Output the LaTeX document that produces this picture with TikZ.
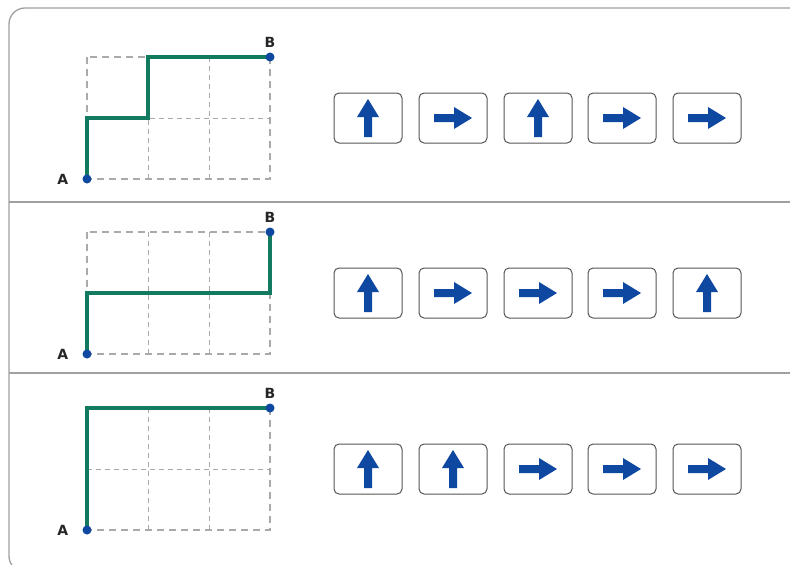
\documentclass[tikz,border=0pt]{standalone}
\usepackage{fontspec}
\setsansfont{DejaVu Sans}
\usetikzlibrary{positioning}
\definecolor{routegreen}{RGB}{18,122,94}
\definecolor{markblue}{RGB}{14,72,160}
\definecolor{framegray}{RGB}{160,160,160}
\definecolor{gridgray}{RGB}{170,170,170}
\definecolor{boxgray}{RGB}{85,85,85}

\begin{document}
\begin{tikzpicture}[x=1pt, y=-1pt,
    frame/.style={draw=framegray, line width=1.3pt},
    gridline/.style={draw=gridgray, dash pattern=on 5pt off 4pt, line width=0.7pt},
    gridedge/.style={draw=gridgray, dash pattern=on 7pt off 5pt, line width=1.3pt},
    route/.style={draw=routegreen, line width=4pt},
    dot/.style={circle, fill=markblue, inner sep=0pt, minimum size=9pt},
    lbl/.style={font=\sffamily\bfseries\fontsize{14}{14}\selectfont, text=black!85, inner sep=0pt},
    card/.style={draw=boxgray, rounded corners=5pt, line width=1pt, minimum width=68pt, minimum height=50pt, fill=white},
    uparrow/.pic={\fill[markblue] (-4,19) -- (-4,-1) -- (-11,-1) -- (0,-19) -- (11,-1) -- (4,-1) -- (4,19) -- cycle;},
    rightarrow/.pic={\fill[markblue] (-19,-4) -- (1,-4) -- (1,-11) -- (19,0) -- (1,11) -- (1,4) -- (-19,4) -- cycle;}
]
\useasboundingbox (0,0) rectangle (790,565);
\clip (0,0) rectangle (790,565);

% frame and row separators
\draw[frame, rounded corners=16pt] (800,8) -- (9,8) -- (9,572) -- (800,572);
\draw[frame] (9,202) -- (790,202);
\draw[frame] (9,373) -- (790,373);

% dashed grids
\foreach \dy in {0,175,351} {
  \draw[gridline] (148,57+\dy) -- (148,179+\dy);
  \draw[gridline] (209,57+\dy) -- (209,179+\dy);
  \draw[gridline] (87,118+\dy) -- (270,118+\dy);
  \draw[gridedge] (87,57+\dy) rectangle (270,179+\dy);
}

% row 1
\coordinate (a1) at (87,179);
\coordinate (b1) at (270,57);
\draw[route] (a1) -- ++(0,-61) -- ++(61,0) -- ++(0,-61) -- (b1);
\node[dot] (da1) at (a1) {};
\node[dot] (db1) at (b1) {};
\node[lbl, left=14pt of da1] (la1) {A};
\node[lbl, above=5pt of db1] (lb1) {B};

\node[card] (c11) at (368,118) {}; \pic at (c11) {uparrow};
\node[card] (c12) at (453,118) {}; \pic at (c12) {rightarrow};
\node[card] (c13) at (538,118) {}; \pic at (c13) {uparrow};
\node[card] (c14) at (622,118) {}; \pic at (c14) {rightarrow};
\node[card] (c15) at (707,118) {}; \pic at (c15) {rightarrow};

% row 2
\coordinate (a2) at (87,354);
\coordinate (b2) at (270,232);
\draw[route] (a2) -- ++(0,-61) -- ++(183,0) -- (b2);
\node[dot] (da2) at (a2) {};
\node[dot] (db2) at (b2) {};
\node[lbl, left=14pt of da2] (la2) {A};
\node[lbl, above=5pt of db2] (lb2) {B};

\node[card] (c21) at (368,293) {}; \pic at (c21) {uparrow};
\node[card] (c22) at (453,293) {}; \pic at (c22) {rightarrow};
\node[card] (c23) at (538,293) {}; \pic at (c23) {rightarrow};
\node[card] (c24) at (622,293) {}; \pic at (c24) {rightarrow};
\node[card] (c25) at (707,293) {}; \pic at (c25) {uparrow};

% row 3
\coordinate (a3) at (87,530);
\coordinate (b3) at (270,408);
\draw[route] (a3) -- ++(0,-122) -- (b3);
\node[dot] (da3) at (a3) {};
\node[dot] (db3) at (b3) {};
\node[lbl, left=14pt of da3] (la3) {A};
\node[lbl, above=5pt of db3] (lb3) {B};

\node[card] (c31) at (368,469) {}; \pic at (c31) {uparrow};
\node[card] (c32) at (453,469) {}; \pic at (c32) {uparrow};
\node[card] (c33) at (538,469) {}; \pic at (c33) {rightarrow};
\node[card] (c34) at (622,469) {}; \pic at (c34) {rightarrow};
\node[card] (c35) at (707,469) {}; \pic at (c35) {rightarrow};
\end{tikzpicture}
\end{document}
